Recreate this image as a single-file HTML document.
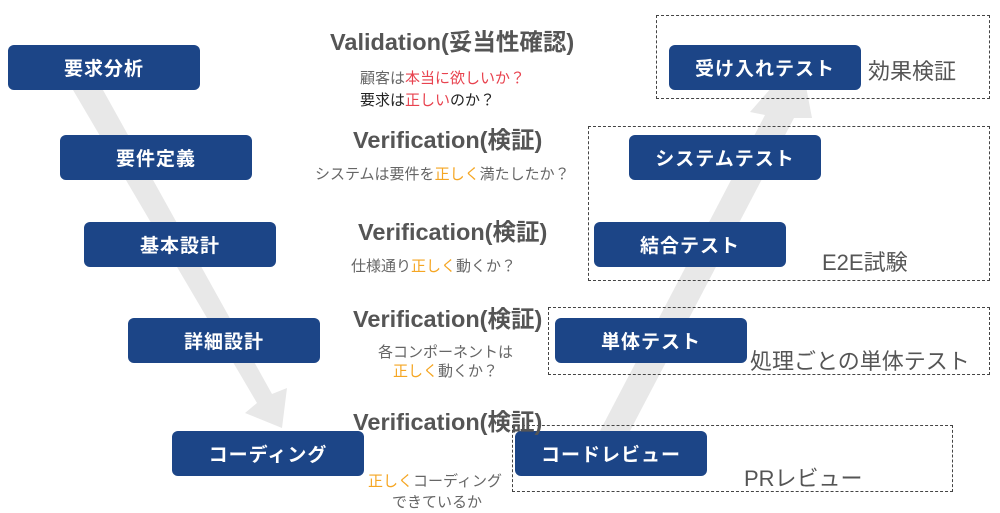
<!DOCTYPE html>
<html><head><meta charset="utf-8"><style>
body{margin:0;width:1000px;height:513px;background:#fff;position:relative;overflow:hidden;font-family:"Liberation Sans","Noto Sans CJK JP",sans-serif}
.b{position:absolute;width:192px;height:45px;background:#1c4587;border-radius:6px;color:#fff;font-weight:bold;font-size:19px;display:flex;align-items:center;justify-content:center;letter-spacing:1px}
.d{position:absolute;border:1.5px dashed #444;box-sizing:border-box}
.t{position:absolute;white-space:nowrap;color:#555}
.h{font-size:23.5px;font-weight:bold;color:#555}
.s{font-size:15px;color:#666}
.r{color:#e8434f}.o{color:#f5a623}
.n{font-size:22px;color:#555}
</style></head><body>
<svg width="1000" height="513" style="position:absolute;left:0;top:0">
<polygon points="73,90 103,90 272,394 287,388 282,428 245,413 257,403" fill="#e8e8e8"/>
<polygon points="590,450 620,450 794,118 812,118 800,55 750,112 765,115" fill="#e8e8e8"/>
</svg>
<div class="d" style="left:656px;top:15px;width:334px;height:84px"></div>
<div class="d" style="left:588px;top:126px;width:402px;height:155px"></div>
<div class="d" style="left:548px;top:307px;width:442px;height:68px"></div>
<div class="d" style="left:512px;top:425px;width:441px;height:67px"></div>
<div class="b" style="left:8px;top:45px">要求分析</div>
<div class="b" style="left:60px;top:135px">要件定義</div>
<div class="b" style="left:84px;top:222px">基本設計</div>
<div class="b" style="left:128px;top:318px">詳細設計</div>
<div class="b" style="left:172px;top:431px">コーディング</div>
<div class="b" style="left:669px;top:45px">受け入れテスト</div>
<div class="b" style="left:629px;top:135px">システムテスト</div>
<div class="b" style="left:594px;top:222px">結合テスト</div>
<div class="b" style="left:555px;top:318px">単体テスト</div>
<div class="b" style="left:515px;top:431px">コードレビュー</div>
<div class="t h" style="left:330px;top:23px">Validation(妥当性確認)</div>
<div class="t s" style="left:360px;top:67px">顧客は<span class="r">本当に欲しいか？</span></div>
<div class="t s" style="left:360px;top:89px;color:#222">要求は<span class="r">正しい</span>のか？</div>
<div class="t h" style="left:353px;top:121px">Verification(検証)</div>
<div class="t s" style="left:315px;top:163px">システムは要件を<span class="o">正しく</span>満たしたか？</div>
<div class="t h" style="left:358px;top:213px">Verification(検証)</div>
<div class="t s" style="left:351px;top:255px">仕様通り<span class="o">正しく</span>動くか？</div>
<div class="t h" style="left:353px;top:300px">Verification(検証)</div>
<div class="t s" style="left:378px;top:341px">各コンポーネントは</div>
<div class="t s" style="left:393px;top:360px"><span class="o">正しく</span>動くか？</div>
<div class="t h" style="left:353px;top:403px">Verification(検証)</div>
<div class="t s" style="left:368px;top:470px"><span class="o">正しく</span>コーディング</div>
<div class="t s" style="left:392px;top:491px">できているか</div>
<div class="t n" style="left:868px;top:54px">効果検証</div>
<div class="t n" style="left:822px;top:245px">E2E試験</div>
<div class="t n" style="left:750px;top:344px">処理ごとの単体テスト</div>
<div class="t n" style="left:744px;top:461px">PRレビュー</div>
</body></html>
